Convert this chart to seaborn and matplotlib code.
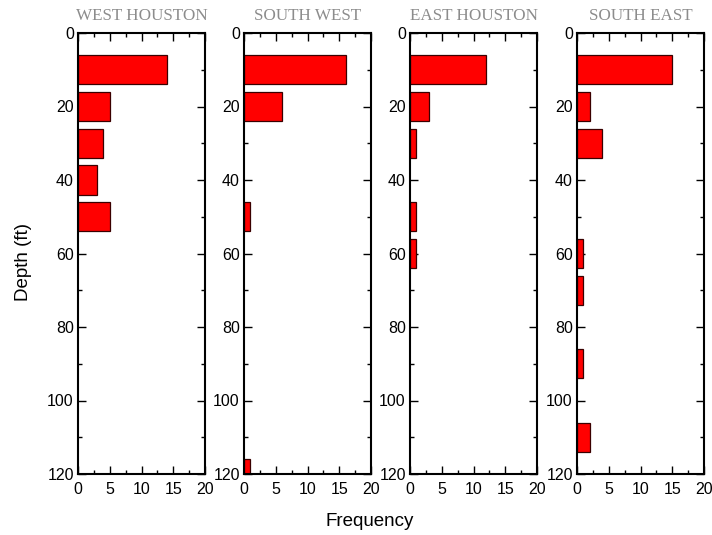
import matplotlib
matplotlib.use("Agg")
import matplotlib.pyplot as plt
import seaborn as sns
import pandas as pd
from matplotlib.ticker import MultipleLocator

sns.set_style("white")
plt.rcParams['font.family'] = ['Liberation Sans', 'DejaVu Sans']
plt.rcParams['text.color'] = 'black'
plt.rcParams['axes.labelcolor'] = 'black'
plt.rcParams['xtick.color'] = 'black'
plt.rcParams['ytick.color'] = 'black'

regions = ["WEST HOUSTON", "SOUTH WEST", "EAST HOUSTON", "SOUTH EAST"]
depths = [10, 20, 30, 40, 50, 60, 70, 80, 90, 100, 110, 120]
west_houston = [14, 5, 4, 3, 5, 0, 0, 0, 0, 0, 0, 0]
south_west = [16, 6, 0, 0, 1, 0, 0, 0, 0, 0, 0, 1]
east_houston = [12, 3, 1, 0, 1, 1, 0, 0, 0, 0, 0, 0]
south_east = [15, 2, 4, 0, 0, 1, 1, 0, 1, 0, 2, 0]
series = [west_houston, south_west, east_houston, south_east]
x_ticks = [0, 5, 10, 15, 20]
y_ticks = [0, 20, 40, 60, 80, 100, 120]

W, H = 712, 535
fig = plt.figure(figsize=(W / 100, H / 100), dpi=100)
lefts = [78, 244, 410, 577]
pw = 127
top, bottom = 33, 474

for i, (name, vals) in enumerate(zip(regions, series)):
    ax = fig.add_axes([lefts[i] / W, 1 - bottom / H, pw / W, (bottom - top) / H])
    df = pd.DataFrame({"depth": depths, "freq": vals})
    df = df[df["freq"] > 0]
    sns.barplot(data=df, x="freq", y="depth", orient="h", native_scale=True,
                width=0.8, color="#ff0000", saturation=1,
                edgecolor="#3a0000", linewidth=0.9, ax=ax)
    ax.set_xlim(0, 20)
    ax.set_ylim(120, 0)
    ax.set_xticks(x_ticks)
    ax.set_yticks(y_ticks)
    ax.xaxis.set_minor_locator(MultipleLocator(2.5))
    ax.yaxis.set_minor_locator(MultipleLocator(10))
    ax.tick_params(which="both", direction="in", top=True, right=True,
                   bottom=True, left=True, width=1.0, color="black",
                   labelcolor="black", labelsize=11.5, pad=3)
    ax.tick_params(axis="x", which="major", pad=6)
    ax.tick_params(which="major", length=5.5)
    ax.tick_params(which="minor", length=3)
    ax.set_xlabel("")
    ax.set_ylabel("")
    for s in ax.spines.values():
        s.set_visible(True)
        s.set_linewidth(1.5)
        s.set_color("black")
    ax.set_title(name, family=["Liberation Serif", "DejaVu Serif"],
                 fontsize=12.3, color="#8c8c8c", pad=9)

fig.text(370 / W, 1 - 522 / H, "Frequency", ha="center", va="center",
         fontsize=13.5, color="black")
fig.text(24 / W, 1 - 262 / H, "Depth (ft)", ha="center", va="center",
         rotation=90, fontsize=13.5, color="black")

fig.savefig("out.png", dpi=100)
